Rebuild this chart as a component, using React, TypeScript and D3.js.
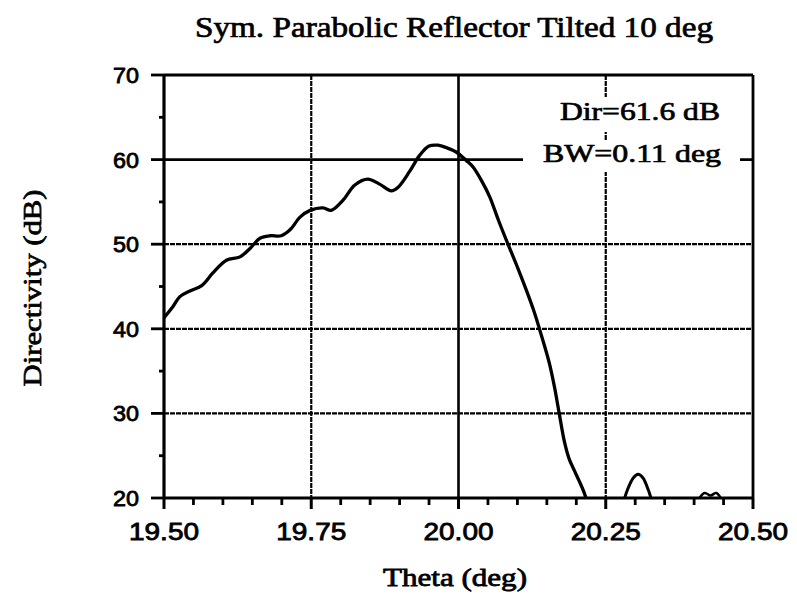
import React from "react";
import * as d3 from "d3";

const W = 797;
const H = 603;

// Main lobe (theta in deg, directivity in dB)
const mainTheta = [
  19.5, 19.515, 19.527, 19.545, 19.564, 19.583, 19.606, 19.629, 19.646, 19.663,
  19.68, 19.699, 19.714, 19.731, 19.748, 19.77, 19.784, 19.804, 19.824, 19.846,
  19.866, 19.886, 19.897, 19.917, 19.934, 19.95, 19.965, 19.98, 19.996, 20.013,
  20.025, 20.04, 20.053, 20.068, 20.084, 20.1, 20.115, 20.127, 20.137, 20.146,
  20.154, 20.163, 20.171, 20.18, 20.188, 20.197, 20.205, 20.213, 20.22,
];
const mainDir = [
  41.3, 42.6, 43.8, 44.5, 45.1, 46.6, 48.1, 48.5, 49.5, 50.7,
  51.0, 51.0, 51.7, 53.2, 54.0, 54.3, 54.0, 55.2, 57.0, 57.7,
  57.1, 56.3, 56.7, 58.6, 60.5, 61.6, 61.7, 61.4, 60.9, 59.9,
  59.1, 57.4, 55.6, 52.8, 50.0, 47.3, 44.6, 42.3, 40.1, 38.0,
  36.0, 33.1, 30.0, 26.6, 24.6, 23.2, 22.0, 20.7, 19.2,
];

// First side lobe
const sideTheta = [20.278, 20.287, 20.297, 20.305, 20.313, 20.322, 20.331];
const sideDir = [19.0, 21.0, 22.4, 22.8, 22.4, 21.0, 19.0];

// Tiny side lobe near the axis
const tinyTheta = [20.405, 20.418, 20.428, 20.438, 20.448];
const tinyDir = [19.6, 20.6, 20.3, 20.6, 19.6];

const xMajor = [19.5, 19.75, 20.0, 20.25, 20.5];
const xLabels = ["19.50", "19.75", "20.00", "20.25", "20.50"];
const xMinor = [19.55, 19.6, 19.65, 19.7, 19.8, 19.85, 19.9, 19.95, 20.05, 20.1, 20.15, 20.2, 20.3, 20.35, 20.4, 20.45];
const yMajor = [20, 30, 40, 50, 60, 70];
const yMinor = [25, 35, 45, 55, 65];
const gridY = [30, 40, 50, 60];
const gridX = [19.75, 20.0, 20.25];

const title = "Sym. Parabolic Reflector Tilted 10 deg";
const xTitle = "Theta (deg)";
const yTitle = "Directivity (dB)";
const note1 = "Dir=61.6 dB";
const note2 = "BW=0.11 deg";

export default function App() {
  const x = d3.scaleLinear().domain([19.5, 20.5]).range([164, 753]);
  const y = d3.scaleLinear().domain([20, 70]).range([498, 75]);
  const line = d3
    .line<[number, number]>()
    .x((d) => x(d[0]))
    .y((d) => y(d[1]))
    .curve(d3.curveCatmullRom.alpha(0.5));

  const mk = (t: number[], v: number[]) => t.map((tt, i) => [tt, v[i]] as [number, number]);

  const serif = "'Liberation Serif', 'Times New Roman', serif";
  const sans = "'Liberation Sans', Arial, sans-serif";
  const x0 = x(19.5), x1 = x(20.5), y0 = y(20), y1 = y(70);

  return (
    <svg width={W} height={H} style={{ position: "absolute", left: 0, top: 0, background: "#fff" }}>
      <defs>
        <clipPath id="plotclip">
          <rect x={x0} y={y1} width={x1 - x0} height={y0 - y1} />
        </clipPath>
      </defs>
      <rect x={0} y={0} width={W} height={H} fill="#fff" />

      {/* grid */}
      {gridY.map((v) => (
        <line key={"gy" + v} x1={x0} x2={x1} y1={y(v)} y2={y(v)} stroke="#000"
          strokeWidth={v === 60 ? 2.6 : 2.2} strokeDasharray={v === 60 ? undefined : "5,1"} />
      ))}
      {gridX.map((v) => (
        <line key={"gx" + v} x1={x(v)} x2={x(v)} y1={y1} y2={y0} stroke="#000"
          strokeWidth={v === 20 ? 2.6 : 2.2} strokeDasharray={v === 20 ? undefined : "5,1"} />
      ))}

      {/* curves */}
      <g clipPath="url(#plotclip)" fill="none" stroke="#000" strokeLinejoin="round" strokeLinecap="round">
        <path d={line(mk(mainTheta, mainDir)) || ""} strokeWidth={3.3} />
        <path d={line(mk(sideTheta, sideDir)) || ""} strokeWidth={3} />
        <path d={line(mk(tinyTheta, tinyDir)) || ""} strokeWidth={2.5} />
      </g>

      {/* annotation masks */}
      <rect x={553} y={97} width={172} height={35} fill="#fff" />
      <rect x={523} y={140} width={217} height={32} fill="#fff" />

      {/* frame */}
      <line x1={x0} x2={x1} y1={y1} y2={y1} stroke="#000" strokeWidth={2.8} />
      <line x1={x1} x2={x1} y1={y1} y2={y0} stroke="#000" strokeWidth={2.8} />
      <line x1={x0} x2={x0} y1={y1} y2={y0} stroke="#000" strokeWidth={3.2} />
      <line x1={x0} x2={x1} y1={y0} y2={y0} stroke="#000" strokeWidth={3.2} />

      {/* y ticks */}
      {yMajor.map((v) => (
        <line key={"yt" + v} x1={x0 - 13} x2={x0} y1={y(v)} y2={y(v)} stroke="#000" strokeWidth={2.8} />
      ))}
      {yMinor.map((v) => (
        <line key={"ym" + v} x1={x0 - 5} x2={x0} y1={y(v)} y2={y(v)} stroke="#000" strokeWidth={2.8} />
      ))}
      {/* x ticks */}
      {xMajor.map((v) => (
        <line key={"xt" + v} x1={x(v)} x2={x(v)} y1={y0} y2={y0 + 11} stroke="#000" strokeWidth={3} />
      ))}
      {xMinor.map((v) => (
        <line key={"xm" + v} x1={x(v)} x2={x(v)} y1={y0} y2={y0 + 7} stroke="#000" strokeWidth={2.8} />
      ))}

      {/* tick labels */}
      {yMajor.map((v) => (
        <text key={"yl" + v} x={139} y={y(v) + 8} textAnchor="end" fontFamily={sans} fontSize={22}
          stroke="#000" strokeWidth={0.8} textLength={26} lengthAdjust="spacingAndGlyphs">
          {String(v)}
        </text>
      ))}
      {xMajor.map((v, i) => (
        <text key={"xl" + v} x={x(v)} y={540} textAnchor="middle" fontFamily={sans} fontSize={23}
          stroke="#000" strokeWidth={0.8} textLength={70} lengthAdjust="spacingAndGlyphs">
          {xLabels[i]}
        </text>
      ))}

      {/* title & axis titles */}
      <text x={454} y={37} textAnchor="middle" fontFamily={serif} fontSize={29} stroke="#000" strokeWidth={0.7}
        textLength={518} lengthAdjust="spacingAndGlyphs">
        {title}
      </text>
      <text x={455} y={586} textAnchor="middle" fontFamily={serif} fontSize={26} stroke="#000" strokeWidth={0.8}
        textLength={144} lengthAdjust="spacingAndGlyphs">
        {xTitle}
      </text>
      <text transform="translate(41,288) rotate(-90)" textAnchor="middle" fontFamily={serif} fontSize={26}
        stroke="#000" strokeWidth={0.7} textLength={197} lengthAdjust="spacingAndGlyphs">
        {yTitle}
      </text>

      {/* annotations */}
      <text x={720} y={120} textAnchor="end" fontFamily={serif} fontSize={26} stroke="#000" strokeWidth={0.7}
        textLength={160} lengthAdjust="spacingAndGlyphs">
        {note1}
      </text>
      <text x={721} y={162} textAnchor="end" fontFamily={serif} fontSize={26} stroke="#000" strokeWidth={0.7}
        textLength={178} lengthAdjust="spacingAndGlyphs">
        {note2}
      </text>
    </svg>
  );
}
